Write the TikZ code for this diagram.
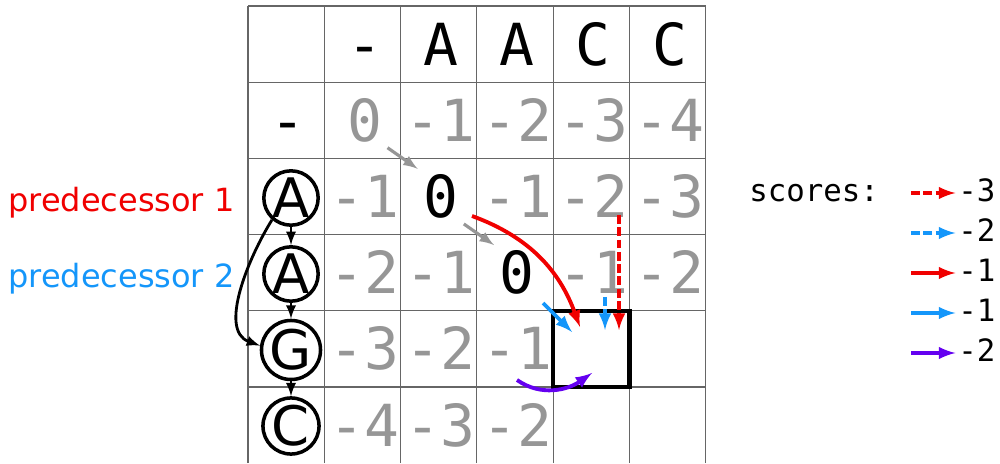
\documentclass[tikz,border=0pt]{standalone}
\usepackage{fontspec}
\usepackage{xcolor}
\usetikzlibrary{arrows}
\usetikzlibrary{math}
\newfontfamily\monofnt{DejaVu Sans Mono}
\newfontfamily\sansfnt{DejaVu Sans}
\definecolor{myred}{RGB}{240,0,0}
\definecolor{myblue}{RGB}{20,150,250}
\definecolor{mypurple}{RGB}{100,0,240}
\definecolor{mygray}{RGB}{150,150,150}

\tikzset{
 gridline/.style={black!60, line width=0.6pt},
 cell/.style={anchor=base, inner sep=3pt, font=\monofnt\fontsize{33}{33}\selectfont},
 seq/.style={circle, draw, line width=2pt, inner sep=0pt, minimum size=30pt, font=\sansfnt\fontsize{31}{31}\selectfont},
 seqarr/.style={-latex, line width=1.6pt},
 grayarr/.style={-latex, mygray, line width=1.8pt},
 redarr/.style={-latex, myred, line width=2.2pt},
 redarrdash/.style={redarr, dash pattern=on 5pt off 2pt},
 bluearr/.style={-latex, myblue, line width=2.2pt},
 bluearrdash/.style={bluearr, dash pattern=on 5pt off 2pt},
 purparr/.style={-latex, mypurple, line width=2.2pt},
 keytext/.style={anchor=base west, inner sep=0pt, font=\monofnt\fontsize{17.5}{17.5}\selectfont},
 predtext/.style={anchor=base west, inner sep=0pt, font=\sansfnt\fontsize{18.2}{18.2}\selectfont},
}

\begin{document}
\begin{tikzpicture}[x=0.02cm, y=0.02cm]
\tikzmath{
 \cw = 76.3; \ch = 76.2; \gx = 248; \gy = 457;
}
\useasboundingbox (0,0) rectangle (1000,463);

 %grid:
 \foreach \i in {0,...,6}
  \draw[gridline] (\gx+\i*\cw, 0) -- (\gx+\i*\cw, \gy);
 \foreach \j in {0,...,5}
  \draw[gridline] (\gx, \gy-\j*\ch) -- (\gx+6*\cw, \gy-\j*\ch);

 %entries:
 \foreach \r/\c/\t/\clr in {0/1/-/black, 0/2/A/black, 0/3/A/black, 0/4/C/black, 0/5/C/black,
   1/0/-/black, 1/1/0/mygray, 1/2/-1/mygray, 1/3/-2/mygray, 1/4/-3/mygray, 1/5/-4/mygray,
   2/1/-1/mygray, 2/2/0/black, 2/3/-1/mygray, 2/4/-2/mygray, 2/5/-3/mygray,
   3/1/-2/mygray, 3/2/-1/mygray, 3/3/0/black, 3/4/-1/mygray, 3/5/-2/mygray,
   4/1/-3/mygray, 4/2/-2/mygray, 4/3/-1/mygray,
   5/1/-4/mygray, 5/2/-3/mygray, 5/3/-2/mygray}
  \node[cell, text=\clr] (n\r\c) at (\gx+\c*\cw+0.5*\cw+2, \gy-\r*\ch-0.5*\ch-21) {\t};

 %sequence:
 \node[seq] (seqA1) at (291,265) {A};
 \node[seq] (seqA2) at (291,189) {A};
 \node[seq] (seqG) at (291,113) {G};
 \node[seq] (seqC) at (291,37) {C};
 \draw[seqarr] (seqA1) -- (seqA2);
 \draw[seqarr] (seqA2) -- (seqG);
 \draw[seqarr] (seqG) -- (seqC);
 \draw[seqarr] (seqA1.229) to[out=238,in=160, looseness=0.9] (seqG.172);

 \node[predtext, text=myred] (pred1) at (8,251) {predecessor 1};
 \node[predtext, text=myblue] (pred2) at (8,175) {predecessor 2};

 %diagonal path:
 \draw[grayarr] (n11.south east) -- (n22.north west);
 \draw[grayarr] (n22.south east) -- (n33.north west);

 %target cell:
 \node[draw, line width=2.3pt, inner sep=0pt, minimum width=1.526cm, minimum height=1.524cm] (box) at (\gx+4.5*\cw, \gy-4.5*\ch) {};

 \coordinate (rs) at (472,247);
 \coordinate (re) at (580,136);
 \coordinate (bs) at (543,160);
 \coordinate (be) at (572,131);
 \coordinate (bds) at (605,166);
 \coordinate (bde) at (605,133);
 \coordinate (rds) at (619,248);
 \coordinate (rde) at (619,133);
 \coordinate (ps) at (517,83);
 \coordinate (pe) at (592,90);
 \draw[redarr] (rs) to[out=-20,in=110] (re);
 \draw[bluearr] (bs) -- (be);
 \draw[bluearrdash] (bds) -- (bde);
 \draw[redarrdash] (rds) -- (rde);
 \draw[purparr] (ps) to[out=-35,in=-145] (pe);

 %legend:
 \node[keytext] (scores) at (749,261) {scores:};
 \foreach \k/\y/\s/\v in {1/261/redarrdash/-3, 2/221/bluearrdash/-2, 3/181/redarr/-1, 4/141/bluearr/-1, 5/101/purparr/-2}{
  \node[keytext] (num\k) at (958,\y) {\v};
  \coordinate (key\k) at (911,\y+9);
  \draw[\s, shorten >=1.5pt] (key\k) -- (key\k -| num\k.west);
 }
\end{tikzpicture}
\end{document}
